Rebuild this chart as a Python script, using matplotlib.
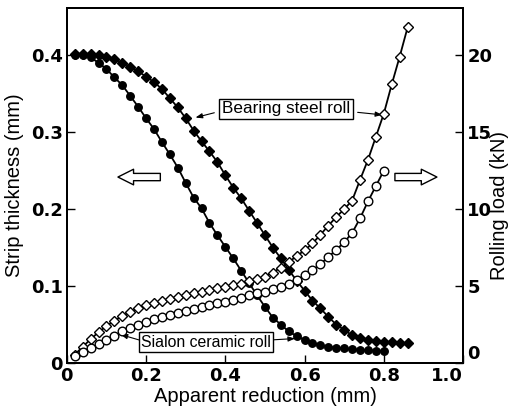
import matplotlib
matplotlib.use("Agg")
import matplotlib.pyplot as plt

# Strip thickness (mm) vs apparent reduction (mm)
x_bearing = [0.02, 0.04, 0.06, 0.08, 0.10, 0.12, 0.14, 0.16, 0.18, 0.20,
             0.22, 0.24, 0.26, 0.28, 0.30, 0.32, 0.34, 0.36, 0.38, 0.40,
             0.42, 0.44, 0.46, 0.48, 0.50, 0.52, 0.54, 0.56, 0.58, 0.60,
             0.62, 0.64, 0.66, 0.68, 0.70, 0.72, 0.74, 0.76, 0.78, 0.80,
             0.82, 0.84, 0.86]
thick_bearing = [0.401, 0.401, 0.401, 0.400, 0.398, 0.395, 0.390, 0.385, 0.379, 0.372,
                 0.365, 0.356, 0.344, 0.332, 0.318, 0.302, 0.288, 0.275, 0.261, 0.244,
                 0.228, 0.214, 0.198, 0.182, 0.166, 0.150, 0.136, 0.121, 0.107, 0.094,
                 0.081, 0.071, 0.060, 0.050, 0.043, 0.036, 0.032, 0.030, 0.028, 0.027,
                 0.027, 0.026, 0.026]
load_bearing = [0.55, 1.05, 1.55, 2.00, 2.40, 2.75, 3.05, 3.33, 3.55, 3.75,
                3.90, 4.04, 4.18, 4.30, 4.42, 4.52, 4.63, 4.74, 4.85, 4.96,
                5.06, 5.16, 5.30, 5.45, 5.62, 5.88, 6.20, 6.55, 6.95, 7.32,
                7.77, 8.33, 8.93, 9.48, 10.0, 10.55, 11.9, 13.2, 14.7, 16.2,
                18.1, 19.9, 21.8]

x_sialon = [0.02, 0.04, 0.06, 0.08, 0.10, 0.12, 0.14, 0.16, 0.18, 0.20,
            0.22, 0.24, 0.26, 0.28, 0.30, 0.32, 0.34, 0.36, 0.38, 0.40,
            0.42, 0.44, 0.46, 0.48, 0.50, 0.52, 0.54, 0.56, 0.58, 0.60,
            0.62, 0.64, 0.66, 0.68, 0.70, 0.72, 0.74, 0.76, 0.78, 0.80]
thick_sialon = [0.400, 0.400, 0.397, 0.390, 0.382, 0.371, 0.361, 0.347, 0.333, 0.318,
                0.304, 0.287, 0.271, 0.254, 0.234, 0.215, 0.201, 0.182, 0.166, 0.151,
                0.136, 0.120, 0.104, 0.088, 0.073, 0.059, 0.050, 0.041, 0.035, 0.030,
                0.026, 0.023, 0.021, 0.020, 0.019, 0.018, 0.017, 0.017, 0.016, 0.016]
load_sialon = [0.45, 0.72, 0.95, 1.24, 1.52, 1.78, 2.05, 2.30, 2.50, 2.67,
               2.84, 3.00, 3.15, 3.28, 3.41, 3.52, 3.64, 3.76, 3.87, 3.98,
               4.10, 4.25, 4.40, 4.52, 4.64, 4.78, 4.96, 5.15, 5.38, 5.70,
               6.05, 6.42, 6.90, 7.35, 7.85, 8.45, 9.40, 10.5, 11.5, 12.5]

x_ticks = [0, 0.2, 0.4, 0.6, 0.8, 1.0]
x_ticklabels = ["0", "0.2", "0.4", "0.6", "0.8", "1.0"]
y_ticks = [0, 0.1, 0.2, 0.3, 0.4]
y_ticklabels = ["0", "0.1", "0.2", "0.3", "0.4"]
load_ticks = [0, 5, 10, 15, 20]

num_font = ["Liberation Sans Narrow", "DejaVu Sans"]
txt_font = ["Liberation Sans", "DejaVu Sans"]
num_kw = dict(family=num_font, fontsize=13, fontweight="bold")

fig = plt.figure(figsize=(5.10, 4.07), dpi=100)
ax = fig.add_axes([0.131, 0.108, 0.777, 0.872])
ax2 = ax.twinx()

# espessura (eixo esquerdo)
ax.plot(x_bearing, thick_bearing, color="black", lw=1.3, marker="D", ms=4.8,
        mfc="black", mec="black", zorder=3)
ax.plot(x_sialon, thick_sialon, color="black", lw=1.3, marker="o", ms=5.4,
        mfc="black", mec="black", zorder=3)

# carga (eixo direito)
ax2.plot(x_bearing, load_bearing, color="black", lw=1.3, marker="D", ms=5.4,
         mfc="white", mec="black", mew=1.0, zorder=3)
ax2.plot(x_sialon, load_sialon, color="black", lw=1.3, marker="o", ms=6.2,
         mfc="white", mec="black", mew=1.0, zorder=3)

ax.set_xlim(0, 1.0)
ax.set_ylim(0, 0.461)
ax2.set_ylim(0, 0.461 * 50)

ax.set_xticks(x_ticks)
ax.set_xticklabels(x_ticklabels, **num_kw)
ax.set_yticks(y_ticks)
ax.set_yticklabels(y_ticklabels, **num_kw)
ax2.set_yticks(load_ticks)
ax2.set_yticklabels([str(t) for t in load_ticks], **num_kw)
ax.get_xticklabels()[-1].set_ha("right")
ax2.get_yticklabels()[0].set_va("bottom")

ax.tick_params(direction="in", length=6, width=1.0, pad=3)
ax2.tick_params(direction="in", length=6, width=1.0, pad=3)
for a in (ax, ax2):
    for s in a.spines.values():
        s.set_linewidth(1.4)

ax.set_xlabel("Apparent reduction (mm)", family=txt_font, fontsize=14.5, labelpad=1)
ax.set_ylabel("Strip thickness (mm)", family=txt_font, fontsize=14.5, labelpad=5)
ax2.set_ylabel("Rolling load (kN)", family=txt_font, fontsize=14.5)
ax2.yaxis.set_label_coords(1.068, 0.445)

# setas vazadas
seta = dict(arrowstyle="simple,head_length=0.75,head_width=0.75,tail_width=0.35",
            fc="white", ec="black", lw=1.0, mutation_scale=15, shrinkA=0, shrinkB=0)
ax.annotate("", xy=(0.129, 0.2416), xytext=(0.236, 0.2416), arrowprops=seta)
ax.annotate("", xy=(0.934, 0.2416), xytext=(0.828, 0.2416), arrowprops=seta)

box = dict(boxstyle="square,pad=0.15", fc="white", ec="black", lw=1.0)
arr = dict(arrowstyle="-|>,head_length=0.4,head_width=0.15", color="black", lw=0.8)

ax.text(0.553, 0.330, "Bearing steel roll", family=txt_font, fontsize=12.3,
        ha="center", va="center", bbox=box, zorder=5)
ax.annotate("", xy=(0.318, 0.318), xytext=(0.379, 0.326), arrowprops=arr)
ax.annotate("", xy=(0.803, 0.322), xytext=(0.727, 0.326), arrowprops=arr)

ax.text(0.351, 0.027, "Sialon ceramic roll", family=txt_font, fontsize=11.4,
        ha="center", va="center", bbox=box, zorder=5)
ax.annotate("", xy=(0.129, 0.038), xytext=(0.189, 0.029), arrowprops=arr)
ax.annotate("", xy=(0.583, 0.032), xytext=(0.515, 0.030), arrowprops=arr)

plt.savefig("out.png", dpi=100)
plt.close()
